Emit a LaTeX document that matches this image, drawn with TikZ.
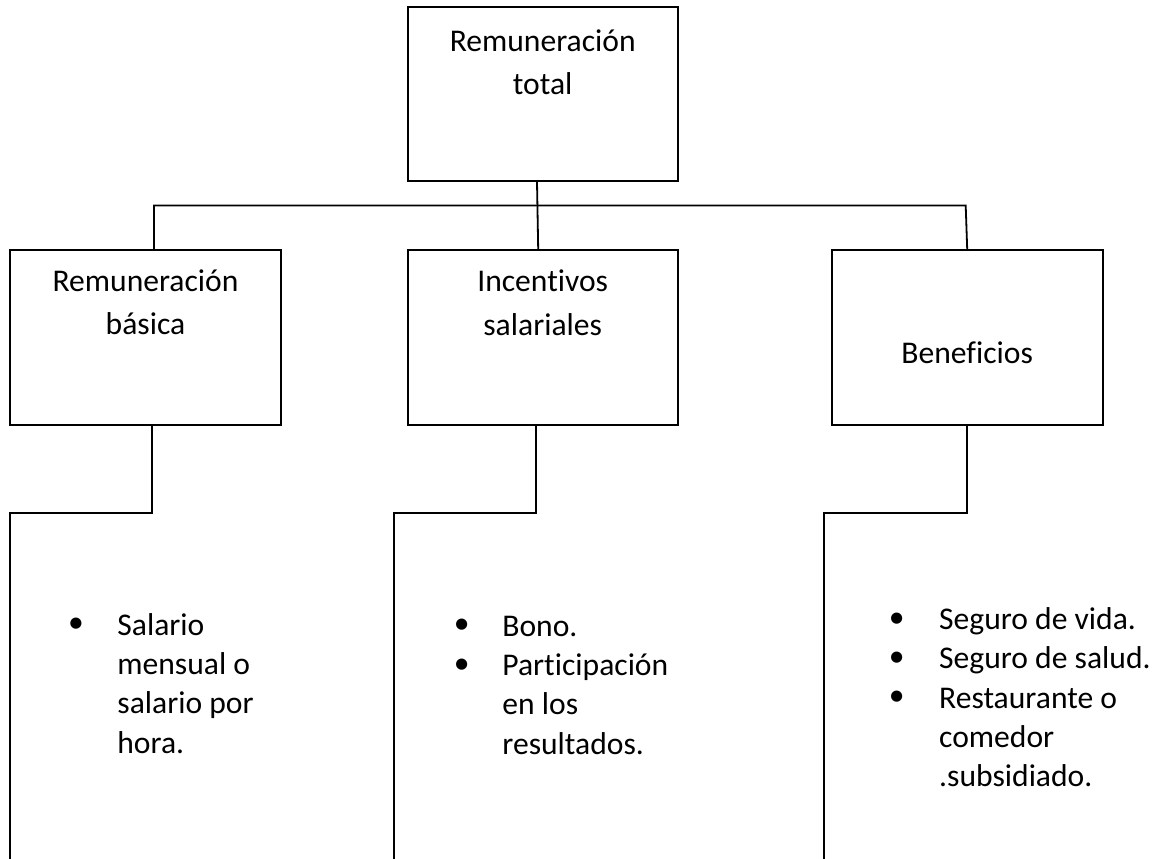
\documentclass[tikz,border=0pt]{standalone}
\usepackage{fontspec}
\setmainfont{Carlito}[Ligatures=NoCommon]
\usepackage{tikz}

\begin{document}
\begin{tikzpicture}[x=1pt,y=-1pt,line width=1.8pt,
  caja/.style={draw,rectangle,minimum width=270pt,minimum height=175pt,inner sep=0pt},
  rotulo/.style={anchor=base,inner sep=0pt,font=\fontsize{31.6}{43.5}\selectfont},
  lista/.style={anchor=base west,inner sep=0pt,font=\fontsize{31.6}{39.4}\selectfont},
  vineta/.style={inner sep=0pt,font=\fontsize{31.6}{39.4}\selectfont}]
\useasboundingbox (0,0) rectangle (1163,859);

\node (total) [caja,minimum height=174pt] at (542.7,94) {};
\node (basica) [caja,minimum width=271pt] at (145.5,337.5) {};
\node (incentivos) [caja] at (542.7,337.5) {};
\node (beneficios) [caja,minimum width=271pt] at (967.2,337.5) {};

\node (txtTotal) [rotulo] at ([yshift=-45.3pt]total.north) {\begin{tabular}[t]{@{}c@{}}Remuneración\\ total\end{tabular}};
\node (txtBasica) [rotulo] at ([yshift=-42.3pt]basica.north) {\begin{tabular}[t]{@{}c@{}}Remuneración\\ básica\end{tabular}};
\node (txtIncentivos) [rotulo] at ([yshift=-42.7pt]incentivos.north) {\begin{tabular}[t]{@{}c@{}}Incentivos\\ salariales\end{tabular}};
\node (txtBeneficios) [rotulo] at ([yshift=-25.8pt]beneficios.center) {Beneficios};

\coordinate (barraIzq) at (154,205.5); \coordinate (barraDer) at (965.7,205.5);
\draw (basica.north -| barraIzq) -- (barraIzq) -- (barraDer) -- (beneficios.north);
\draw ([xshift=-5.7pt]total.south) -- ([xshift=-4.5pt]incentivos.north);

\coordinate (esqBasica) at (10,513); \coordinate (finBasica) at (10,859);
\coordinate (esqIncentivos) at (394.3,513); \coordinate (finIncentivos) at (394.3,859);
\coordinate (esqBeneficios) at (823.7,513); \coordinate (finBeneficios) at (823.7,859);
\draw ([xshift=6.8pt]basica.south) |- (esqBasica) -- (finBasica);
\draw ([xshift=-6.7pt]incentivos.south) |- (esqIncentivos) -- (finIncentivos);
\draw (beneficios.south) |- (esqBeneficios) -- (finBeneficios);

\node (listaBasica) [lista] at (116.5,635) {\begin{tabular}[t]{@{}l@{}}Salario\\ mensual o\\ salario por\\ hora.\end{tabular}};
\node (vinBasica) [vineta] at (76,625.7) {\textbullet};

\node (listaIncentivos) [lista] at (501.5,636) {\begin{tabular}[t]{@{}l@{}}Bono.\\ Participación\\ en los\\ resultados.\end{tabular}};
\node (vinBono) [vineta] at (461.7,626.5) {\textbullet};
\node (vinParticipacion) [vineta] at (461.7,665.9) {\textbullet};

\node (listaBeneficios) [lista] at (938.3,629.3) {\begin{tabular}[t]{@{}l@{}}Seguro de vida.\\ Seguro de salud.\\ Restaurante o\\ comedor\\ .subsidiado.\end{tabular}};
\node (vinVida) [vineta] at (896.7,619.8) {\textbullet};
\node (vinSalud) [vineta] at (896.7,659.2) {\textbullet};
\node (vinRestaurante) [vineta] at (896.7,698.6) {\textbullet};

\end{tikzpicture}
\end{document}
